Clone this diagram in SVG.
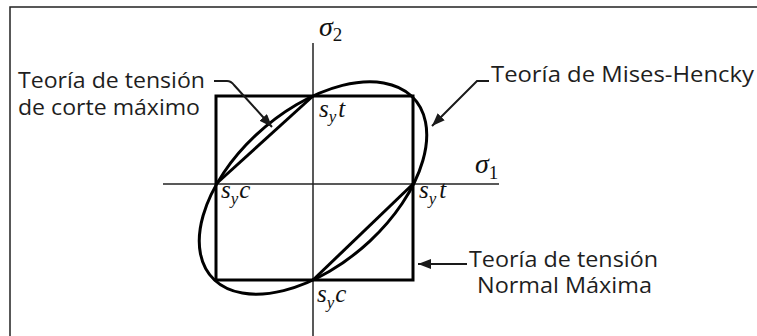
<svg xmlns="http://www.w3.org/2000/svg" width="757" height="336" viewBox="0 0 757 336">
<style>
.txt{font-family:"Open Sans","Noto Sans","Liberation Sans",sans-serif;font-size:21px;fill:#1e1e1e}
.m{font-family:"Liberation Serif","DejaVu Serif",serif;font-style:italic;fill:#111}
.thick{fill:none;stroke:#000;stroke-width:3}
.thin{fill:none;stroke:#222;stroke-width:1.5}
.lead{fill:none;stroke:#1a1a1a;stroke-width:2}
</style>
<defs>
<marker id="ah" markerUnits="userSpaceOnUse" markerWidth="13" markerHeight="10" refX="13" refY="5" orient="auto">
<path d="M0,0 L13,5 L0,10 Z" fill="#1a1a1a"/>
</marker>
</defs>
<rect width="757" height="336" fill="#fff"/>
<g id="frame">
<path class="thin" d="M10,336 L10,7 L757,7"/>
</g>
<g id="axes">
<line class="thin" x1="163" y1="184" x2="499" y2="184"/>
<line class="thin" x1="313" y1="43" x2="313" y2="336"/>
<text class="m" x="319" y="36" font-size="28">σ<tspan font-style="normal" font-size="19" dy="5">2</tspan></text>
<text class="m" x="475" y="173" font-size="28">σ<tspan font-style="normal" font-size="19" dy="6">1</tspan></text>
</g>
<g id="normal-max">
<rect class="thick" x="216" y="96" width="197" height="184"/>
</g>
<g id="tresca">
<line class="thick" x1="216" y1="184" x2="313" y2="96"/>
<line class="thick" x1="313" y1="280" x2="413" y2="184"/>
</g>
<g id="mises">
<g transform="matrix(98.5 0 0 -92 313 188)">
<ellipse cx="0" cy="0" rx="1.41421" ry="0.81650" transform="rotate(45)" fill="none" stroke="#000" stroke-width="3" vector-effect="non-scaling-stroke"/>
</g>
</g>
<g id="points">
<text class="m" x="319" y="117" font-size="25">s<tspan font-size="17" dy="5">y</tspan><tspan dy="-5" dx="2">t</tspan></text>
<text class="m" x="419" y="198" font-size="25">s<tspan font-size="17" dy="6">y</tspan><tspan dy="-6" dx="3">t</tspan></text>
<text class="m" x="221" y="198" font-size="25">s<tspan font-size="17" dy="6">y</tspan><tspan dy="-6" dx="1">c</tspan></text>
<text class="m" x="317" y="302" font-size="25">s<tspan font-size="17" dy="6">y</tspan><tspan dy="-6" dx="1">c</tspan></text>
</g>
<g id="label-tresca">
<text class="txt" x="18" y="88" textLength="187" lengthAdjust="spacingAndGlyphs">Teoría de tensión</text>
<text class="txt" x="18" y="115" textLength="182" lengthAdjust="spacingAndGlyphs">de corte máximo</text>
</g>
<g id="label-mises">
<text class="txt" x="491" y="82" textLength="263" lengthAdjust="spacingAndGlyphs">Teoría de Mises-Hencky</text>
</g>
<g id="label-normal">
<text class="txt" x="469" y="267" textLength="189" lengthAdjust="spacingAndGlyphs">Teoría de tensión</text>
<text class="txt" x="477" y="293" textLength="175" lengthAdjust="spacingAndGlyphs">Normal Máxima</text>
</g>
<g id="connectors">
<path class="lead" d="M214,81 L227,81 Q231,81 234,85 L272,127" marker-end="url(#ah)"/>
<path class="lead" d="M489,81 L477,81 L432,126" marker-end="url(#ah)"/>
<path class="lead" d="M467,264 L418,264" marker-end="url(#ah)"/>
</g>
</svg>
